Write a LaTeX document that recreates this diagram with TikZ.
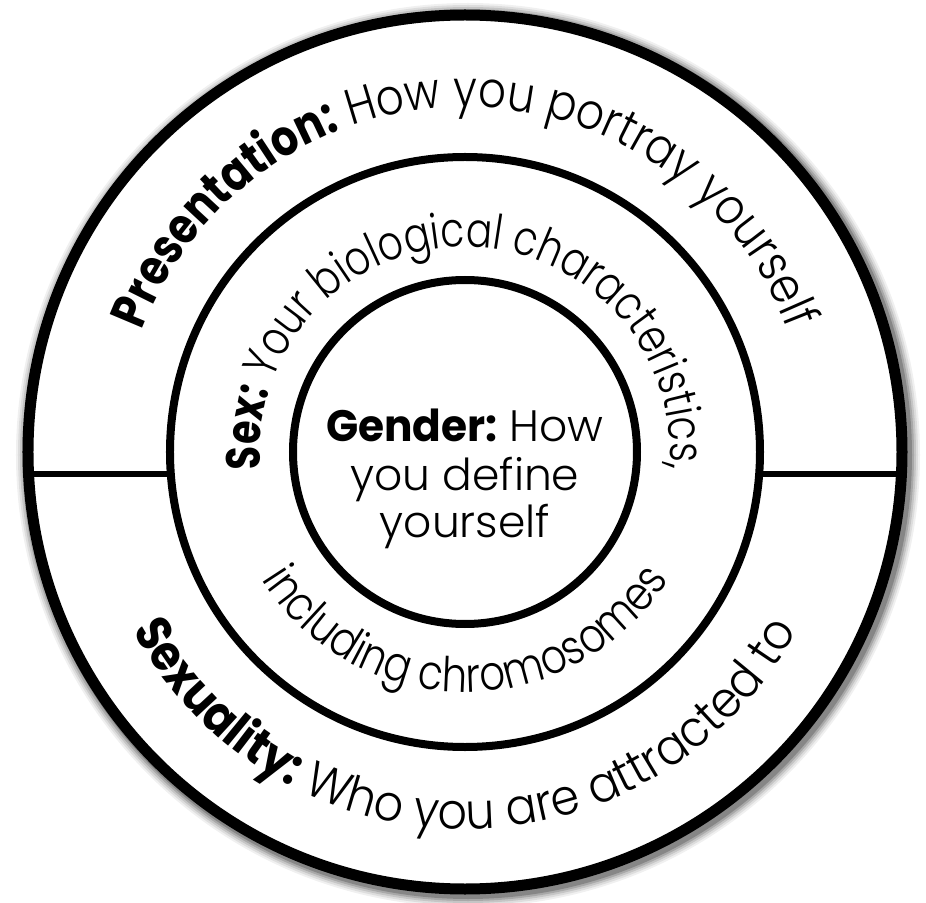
\documentclass[tikz,border=0pt]{standalone}
\usepackage{fontspec}
\usetikzlibrary{decorations.text}
\IfFontExistsTF{Poppins Light}{\def\RegName{Poppins Light}}{\def\RegName{Poppins}}
\IfFontExistsTF{Poppins Bold}{\def\BoldName{Poppins Bold}}{\def\BoldName{Poppins SemiBold}}
\newfontfamily\rfnt{\RegName}
\newfontfamily\bfnt{\BoldName}[FakeStretch=0.96]
\newfontfamily\otRfnt{\RegName}[FakeStretch=0.87]
\newfontfamily\otBfnt{\BoldName}[FakeStretch=0.84]
\newfontfamily\obRfnt{\RegName}[FakeStretch=0.92]
\newfontfamily\obBfnt{\BoldName}[FakeStretch=0.89]
\newfontfamily\mtRfnt{\RegName}[FakeStretch=0.81]
\newfontfamily\mtBfnt{\BoldName}[FakeStretch=0.79]
\newfontfamily\mbRfnt{\RegName}[FakeStretch=0.84]
\newcommand\OTB{\otBfnt\fontsize{50}{60}\selectfont}
\newcommand\OTR{\otRfnt\fontsize{50}{60}\selectfont}
\newcommand\OBB{\obBfnt\fontsize{50}{60}\selectfont}
\newcommand\OBR{\obRfnt\fontsize{50}{60}\selectfont}
\newcommand\MTB{\mtBfnt\fontsize{48}{58}\selectfont}
\newcommand\MTR{\mtRfnt\fontsize{48}{58}\selectfont}
\newcommand\MBR{\mbRfnt\fontsize{48}{58}\selectfont}
\newcommand\IB{\bfnt\fontsize{44}{54}\selectfont}
\newcommand\IR{\rfnt\fontsize{44}{54}\selectfont}
\tikzset{
  ring/.style={line width=#1, draw=black},
  divider/.style={line width=6pt, draw=black},
  ringtext/.style={decorate, decoration={text along path, text align=center, text={#1}}}
}
\begin{document}
\begin{tikzpicture}[x=1pt,y=1pt]
\useasboundingbox (-465,-450) rectangle (461,452);
% soft shadow
\foreach \r/\o in {452/0.06, 450/0.08, 448/0.11, 446/0.15, 444/0.2}{
  \fill[black, opacity=\o] (3,-3) circle[radius=\r];
}
\fill[white] (0,0) circle[radius=437];
% rings
\draw[ring=11pt] (0,0) circle[radius=437];
\draw[ring=8pt] (0,0) circle[radius=295];
\draw[ring=8pt] (0,0) circle[radius=172];
% dividers
\coordinate (lo) at (-436.5,-21.5);
\coordinate (lm) at (-294.2,-21.5);
\coordinate (rm) at (294.2,-21.5);
\coordinate (ro) at (436.5,-21.5);
\draw[divider] (lo) -- (lm);
\draw[divider] (rm) -- (ro);
% curved texts
\path[ringtext={|\OTB|Presentation:|\OTR| How you portray yourself}]
  (200:345) arc[start angle=200, end angle=-20, radius=345];
\path[ringtext={|\MTB|Sex:|\MTR| Your biological characteristics,}]
  (260:205) arc[start angle=260, end angle=-80, radius=205];
\path[ringtext={|\MBR|including chromosomes}]
  (150:240) arc[start angle=150, end angle=390, radius=240];
\path[ringtext={|\OBB|Sexuality:|\OBR| Who you are attracted to}]
  (140:377) arc[start angle=140, end angle=400, radius=377];
% centre text
\node[anchor=base, inner sep=0] (g1) at (0,10) {\IB Gender: \IR How};
\node[anchor=base, inner sep=0] (g2) at (0,-38) {\IR you define};
\node[anchor=base, inner sep=0] (g3) at (0,-85) {\IR yourself};
\end{tikzpicture}
\end{document}
